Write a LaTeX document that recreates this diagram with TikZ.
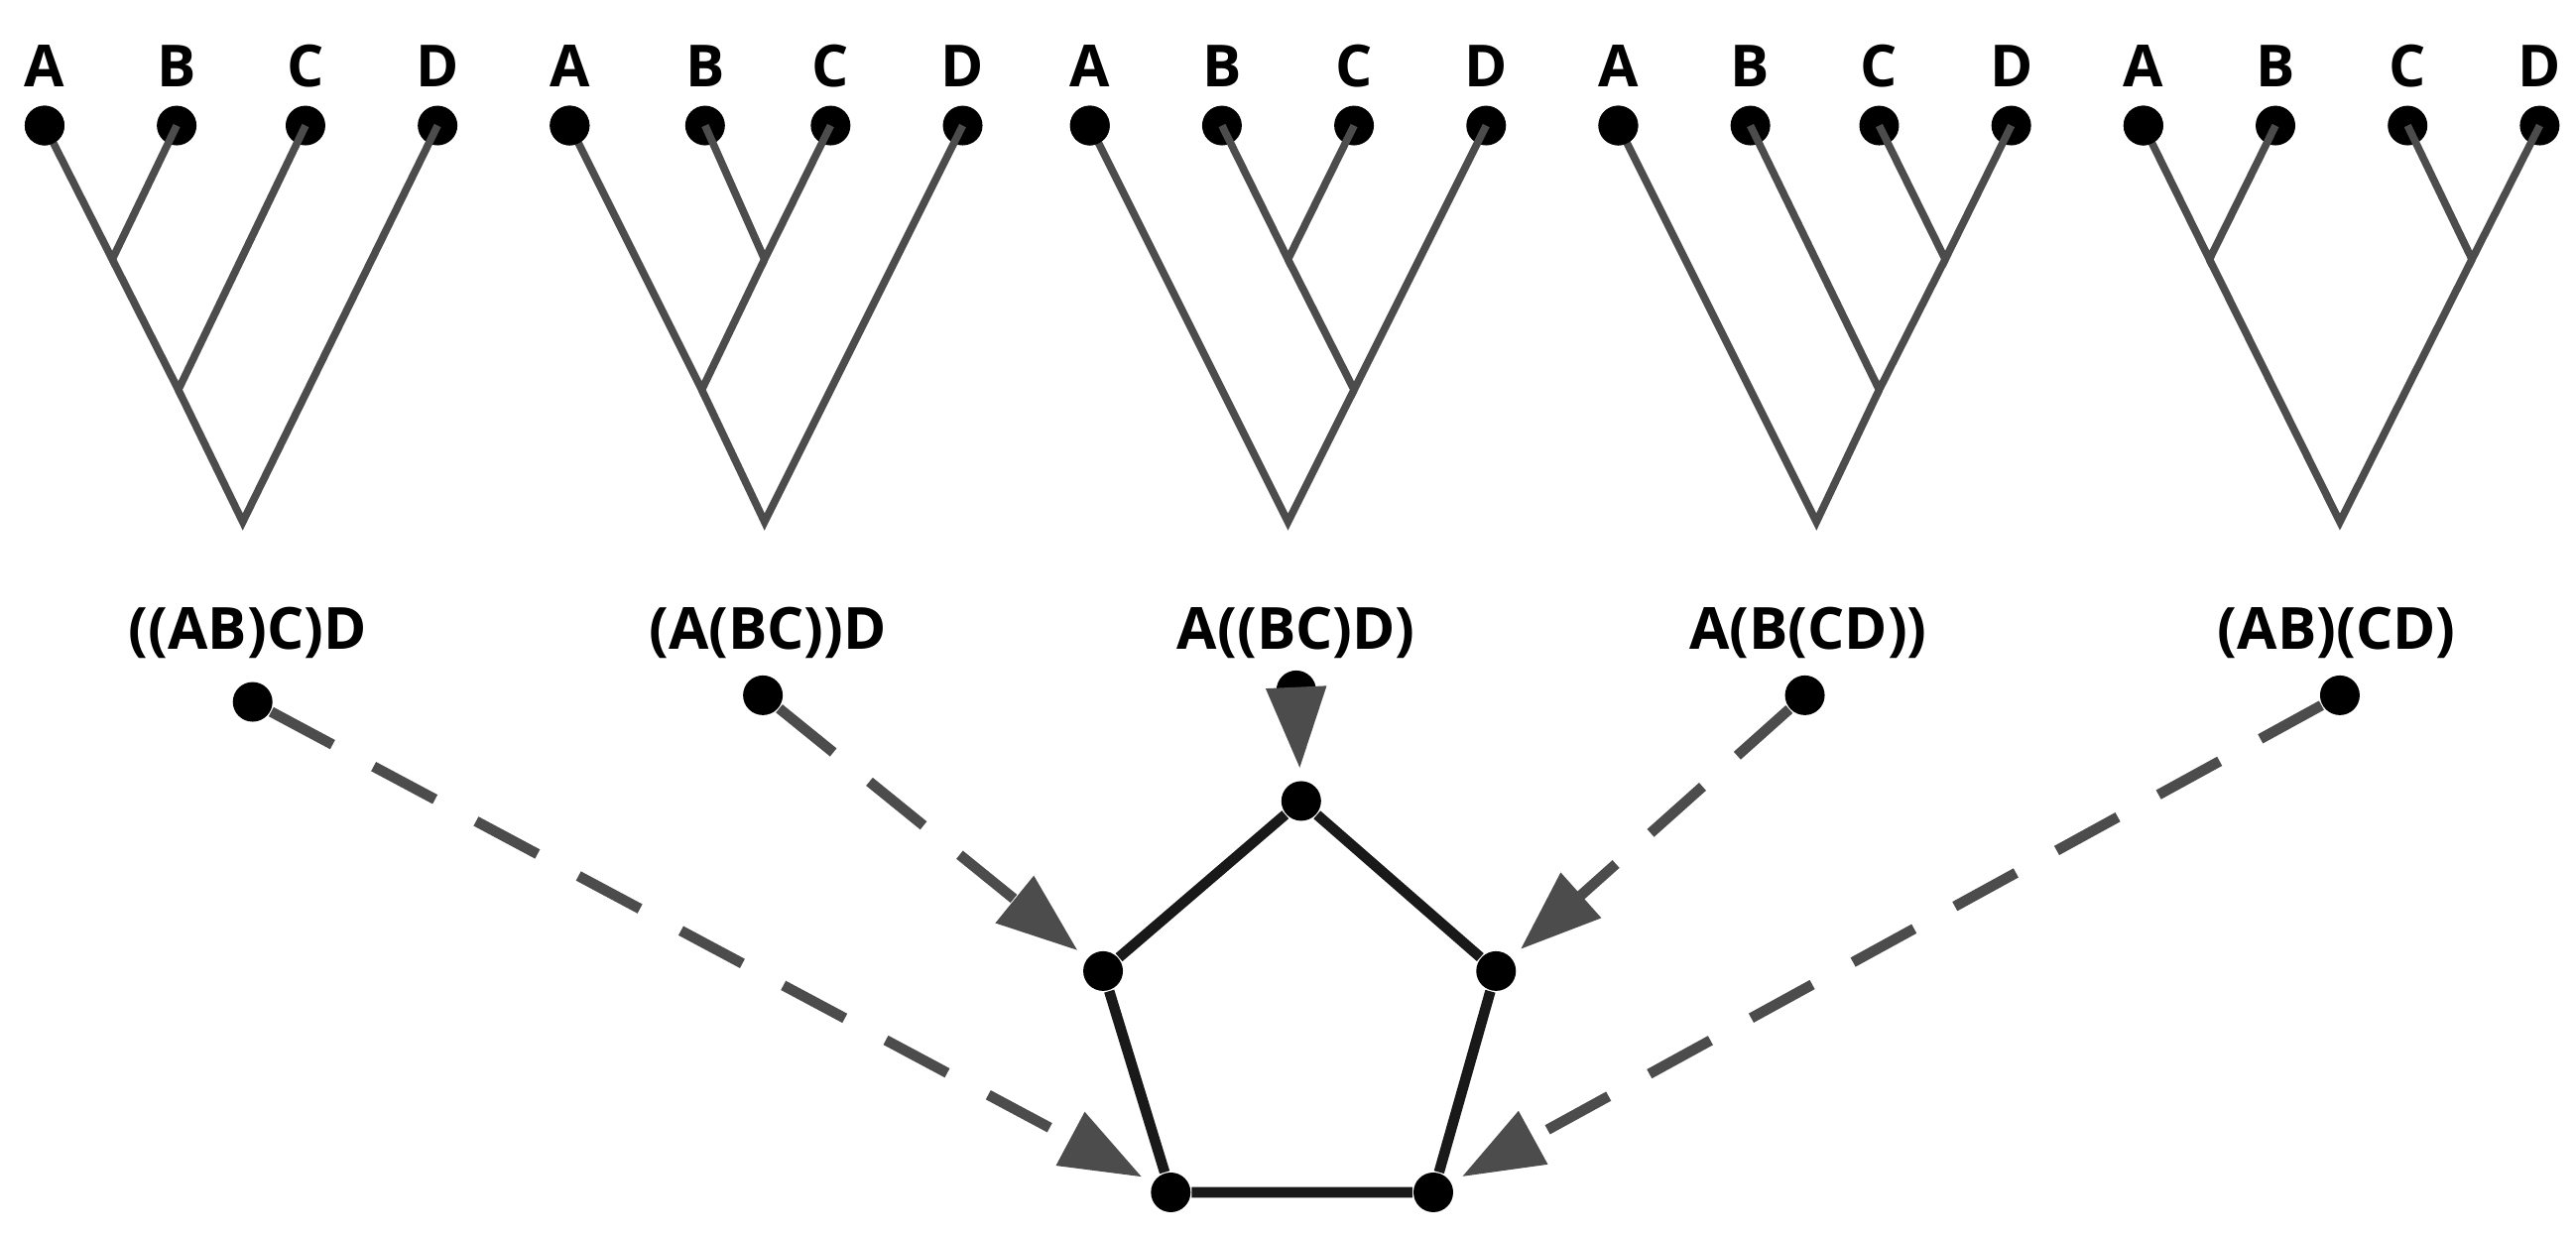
\documentclass[tikz,border=0pt]{standalone}
\usepackage{fontspec}
\setmainfont{Open Sans}
\usetikzlibrary{arrows.meta}
\begin{document}
\begin{tikzpicture}[x=0.01cm,y=-0.01cm,
  dot/.style={circle,fill=black,inner sep=0pt,minimum size=0.24cm},
  br/.style={draw=black!70,line width=1.3pt},
  pe/.style={draw=black!90,line width=1.8pt},
  ar/.style={draw=black!70,line width=1.8pt,dash pattern=on 12pt off 8pt,-{Triangle[length=14pt,width=10pt]},shorten >=2pt},
  lab/.style={font=\fontsize{10}{12}\selectfont\bfseries},
  tl/.style={font=\fontsize{10}{12}\selectfont\bfseries}]
\useasboundingbox (0,0) rectangle (1560,750);
% tree builder
\foreach \t/\xa/\xb/\xc/\xd in {1/27/107/185/265,2/345/427/503/583,3/660/740/820/900,4/980/1060/1138/1218,5/1298/1378/1458/1538}{
  \node[dot] (a\t) at (\xa,76) {};
  \node[dot] (b\t) at (\xb,76) {};
  \node[dot] (c\t) at (\xc,76) {};
  \node[dot] (d\t) at (\xd,76) {};
  \node[tl] at (\xa,40) {A};
  \node[tl] at (\xb,40) {B};
  \node[tl] at (\xc,40) {C};
  \node[tl] at (\xd,40) {D};
}
% tree 1 ((AB)C)D
\coordinate (p1) at (68,157); \coordinate (q1) at (108,236); \coordinate (r1) at (147,316);
\draw[br] (a1.center)--(p1)--(b1.center); \draw[br] (p1)--(q1)--(c1.center); \draw[br] (q1)--(r1)--(d1.center);
% tree 2 (A(BC))D
\coordinate (p2) at (463,157); \coordinate (q2) at (425,236); \coordinate (r2) at (463,316);
\draw[br] (b2.center)--(p2)--(c2.center); \draw[br] (a2.center)--(q2)--(p2); \draw[br] (q2)--(r2)--(d2.center);
% tree 3 A((BC)D)
\coordinate (p3) at (780,157); \coordinate (q3) at (820,236); \coordinate (r3) at (780,316);
\draw[br] (b3.center)--(p3)--(c3.center); \draw[br] (p3)--(q3)--(d3.center); \draw[br] (a3.center)--(r3)--(q3);
% tree 4 A(B(CD))
\coordinate (p4) at (1178,157); \coordinate (q4) at (1138,236); \coordinate (r4) at (1100,316);
\draw[br] (c4.center)--(p4)--(d4.center); \draw[br] (b4.center)--(q4)--(p4); \draw[br] (a4.center)--(r4)--(q4);
% tree 5 (AB)(CD)
\coordinate (p5) at (1338,157); \coordinate (q5) at (1497,157); \coordinate (r5) at (1417,316);
\draw[br] (a5.center)--(p5)--(b5.center); \draw[br] (c5.center)--(q5)--(d5.center); \draw[br] (p5)--(r5)--(q5);
\foreach \t in {1,...,5}{\fill (a\t) circle (0.12cm);}
% labels and dots
\node[lab] at (150,383) {((AB)C)D};
\node[lab] at (465,383) {(A(BC))D};
\node[lab] at (785,383) {A((BC)D)};
\node[lab] at (1095,383) {A(B(CD))};
\node[lab] at (1415,383) {(AB)(CD)};
\node[dot] (s1) at (153,425) {};
\node[dot] (s2) at (462,421) {};
\node[dot] (s3) at (785,418) {};
\node[dot] (s4) at (1093,421) {};
\node[dot] (s5) at (1417,421) {};
% pentagon
\node[dot] (top) at (788,485) {};
\node[dot] (lft) at (668,588) {};
\node[dot] (rgt) at (906,588) {};
\node[dot] (bl) at (709,722) {};
\node[dot] (brr) at (868,722) {};
\draw[pe] (top)--(rgt)--(brr)--(bl)--(lft)--(top);
\draw[ar] (s1)--(bl);
\draw[ar] (s2)--(lft);
\draw[ar] (s3)--(top);
\draw[ar] (s4)--(rgt);
\draw[ar] (s5)--(brr);
\end{tikzpicture}
\end{document}
